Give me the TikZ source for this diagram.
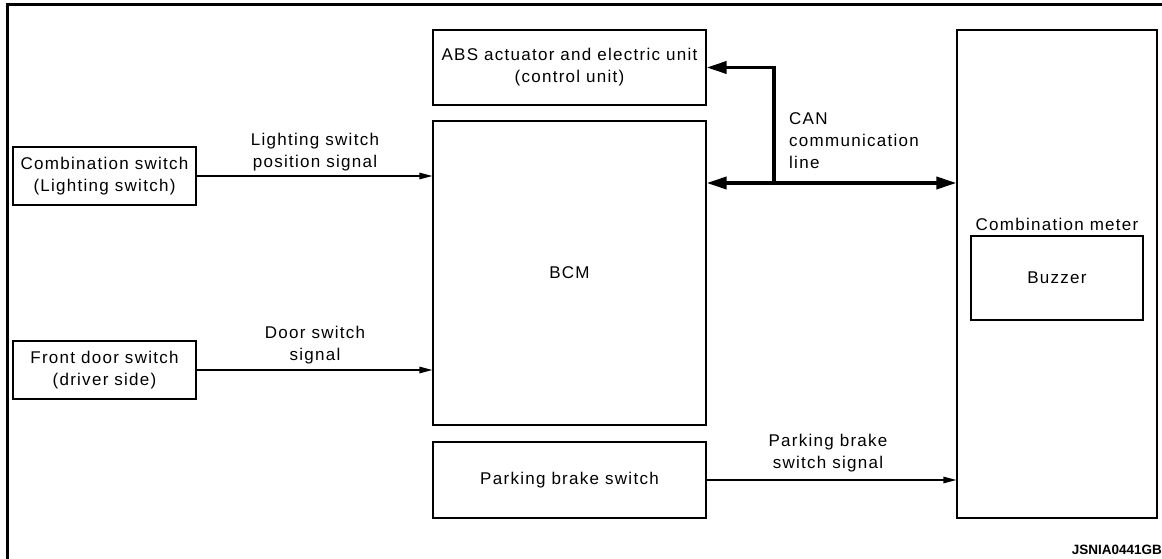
\documentclass[tikz,border=0pt]{standalone}
\usepackage{fontspec}
\setmainfont[LetterSpace=7.5]{Liberation Sans}
\newfontfamily\codefont{Liberation Sans}
\usetikzlibrary{arrows.meta}
\begin{document}
\begin{tikzpicture}[x=1pt,y=-1pt,
  box/.style={draw,line width=1.2pt,inner sep=0pt,align=center,font=\fontsize{17}{22}\selectfont},
  lbl/.style={inner sep=0pt,align=center,font=\fontsize{17}{22}\selectfont},
  sig/.style={line width=1.2pt,-{Triangle[length=13pt,width=6.5pt]}},
  can/.style={line width=3.6pt},
  canhead/.tip={Triangle[length=20pt,width=12pt]},
  frame/.style={line width=3pt}]
\useasboundingbox (0,0) rectangle (1162,559);
\draw[frame] (7,559) -- (7,5) -- (1162,5);

\node[box,minimum width=183pt,minimum height=58pt] (comb) at (104.5,176) {Combination switch\\(Lighting switch)};
\node[box,minimum width=183pt,minimum height=58pt] (door) at (104.5,370) {Front door switch\\(driver side)};
\node[box,minimum width=273pt,minimum height=75pt] (abs) at (569.5,67.5) {ABS actuator and electric unit\\(control unit)};
\node[box,minimum width=273pt,minimum height=304pt] (bcm) at (569.5,273) {BCM};
\node[box,minimum width=273pt,minimum height=76pt] (park) at (569.5,480) {Parking brake switch};
\node[box,minimum width=200pt,minimum height=488pt] (meter) at (1057,274) {};
\node[box,minimum width=172pt,minimum height=84pt] (buzz) at (1057,278) {Buzzer};
\node[lbl] (metertxt) at (1057,224) {Combination meter};

\draw[sig] (comb.east) -- (comb.east -| bcm.west);
\draw[sig] (door.east) -- (door.east -| bcm.west);
\draw[sig] (park.east) -- (park.east -| meter.west);

\coordinate (junc) at (774,183);
\draw[can,canhead-canhead] (junc -| bcm.east) -- (junc -| meter.west);
\draw[can,-canhead] (junc) |- (abs.east);

\node[lbl] (l1) at (315,152) {Lighting switch\\position signal};
\node[lbl] (l2) at (315,345) {Door switch\\signal};
\node[lbl] (l3) at (828,453) {Parking brake\\switch signal};
\node[lbl,anchor=west,align=left] (l4) at (789,141) {CAN\\communication\\line};
\node[inner sep=0pt,anchor=east,font=\codefont\bfseries\fontsize{13.5}{15}\selectfont] (code) at (1162,550) {JSNIA0441GB};
\end{tikzpicture}
\end{document}
